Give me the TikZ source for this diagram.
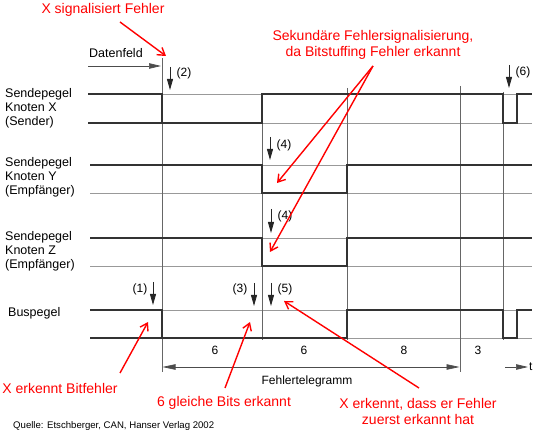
\documentclass[tikz,border=0pt]{standalone}
\usepackage{fontspec}
\setmainfont{Liberation Sans}
\usetikzlibrary{arrows.meta}
\begin{document}
\begin{tikzpicture}[x=1pt,y=-1pt,
  sigln/.style={line width=2.4pt, draw=black!80, line join=miter},
  refln/.style={line width=0.7pt, draw=black!40},
  gridln/.style={line width=0.7pt, draw=black!60},
  darr/.style={line width=0.8pt, draw=black!85, -{Triangle[length=11pt,width=6pt]}},
  dimarr/.style={line width=0.7pt, draw=black!70},
  redarr/.style={draw=red, line width=1.4pt, -{Straight Barb[length=7pt,width=9pt]}},
  redtxt/.style={text=red, font=\fontsize{14}{16}\selectfont, align=center, inner sep=0},
  lbl/.style={font=\fontsize{12.5}{14}\selectfont, align=left, anchor=west, inner sep=0},
  numlbl/.style={font=\fontsize{12}{14}\selectfont, inner sep=0},
  src/.style={font=\fontsize{9.6}{11}\selectfont, anchor=west, inner sep=0}
]
\useasboundingbox (0,0) rectangle (538,435);

% reference (thin) levels
\foreach \yh/\yl/\xs in {94/123/88, 165/193/90, 238/266/90, 310/338/90}{
  \draw[refln] (\xs,\yh) -- (532,\yh);
  \draw[refln] (\xs,\yl) -- (532,\yl);
}

% vertical grid lines
\draw[gridln] (162,58) -- (162,372);
\draw[gridln] (262,94) -- (262,340);
\draw[gridln] (347,88) -- (347,340);
\draw[gridln] (460,86) -- (460,372);
\draw[gridln] (503,92) -- (503,340);

% signals
\draw[sigln] (88,94) -- (162,94) -- (162,123) -- (262,123) -- (262,94) -- (503,94) -- (503,123) -- (517,123) -- (517,94) -- (532,94);
\draw[sigln] (88,123) -- (162,123);
\draw[sigln] (90,165) -- (262,165) -- (262,193) -- (347,193) -- (347,165) -- (532,165);
\draw[sigln] (90,238) -- (262,238) -- (262,266) -- (347,266) -- (347,238) -- (532,238);
\draw[sigln] (90,310) -- (162,310) -- (162,338) -- (347,338) -- (347,310) -- (503,310) -- (503,338) -- (517,338) -- (517,310) -- (532,310);
\draw[sigln] (90,338) -- (162,338);

% left labels
\node[lbl] (lx) at (5,108) {Sendepegel\\Knoten X\\(Sender)};
\node[lbl] (ly) at (5,177) {Sendepegel\\Knoten Y\\(Empfänger)};
\node[lbl] (lz) at (5,251) {Sendepegel\\Knoten Z\\(Empfänger)};
\node[lbl] (lb) at (8,313) {Buspegel};

% Datenfeld
\node[lbl] (df) at (89,53) {Datenfeld};
\coordinate (dfa) at (88,66);
\coordinate (dfb) at (161,66);
\draw[dimarr, -{Triangle[length=12pt,width=5.5pt]}] (dfa) -- (dfb);

% event markers
\foreach \n/\x/\ya/\yb/\lx/\ly/\t in {
  m2/170/67/90/184/73/(2),
  m4y/270/137/160/284/145/(4),
  m4z/271/209/233/285/216/(4),
  m1/153/282/305/140/289/(1),
  m3/254/283/306/240/289/(3),
  m5/271/283/306/285/289/(5),
  m6/509/65/88/523/72/(6)}{
  \coordinate (\n a) at (\x,\ya);
  \coordinate (\n b) at (\x,\yb);
  \draw[darr] (\n a) -- (\n b);
  \node[numlbl] (\n l) at (\lx,\ly) {\t};
}

% bit counts
\node[numlbl] (c1) at (215,350) {6};
\node[numlbl] (c2) at (304,350) {6};
\node[numlbl] (c3) at (404,350) {8};
\node[numlbl] (c4) at (478,350) {3};

% Fehlertelegramm
\coordinate (fta) at (162.5,367);
\coordinate (ftb) at (459.5,367);
\draw[dimarr, {Triangle[length=13pt,width=5.5pt]}-{Triangle[length=13pt,width=5.5pt]}] (fta) -- (ftb);
\node[numlbl] (ft) at (307,381) {Fehlertelegramm};
\coordinate (ta) at (505,367);
\coordinate (tb) at (528,367);
\draw[dimarr, -{Triangle[length=12pt,width=5.5pt]}] (ta) -- (tb);
\node[numlbl, anchor=west] (tl) at (529,367) {t};

% source
\node[src] (q) at (13,426) {Quelle: Etschberger, CAN, Hanser Verlag 2002};

% red annotations
\node[redtxt] (r1) at (103,10) {X signalisiert Fehler};
\node[redtxt] (r2) at (373,45) {Sekundäre Fehlersignalisierung,\\da Bitstuffing Fehler erkannt};
\node[redtxt] (r3) at (60,388) {X erkennt Bitfehler};
\node[redtxt] (r4) at (224,403) {6 gleiche Bits erkannt};
\node[redtxt] (r5) at (418,411) {X erkennt, dass er Fehler\\zuerst erkannt hat};

\coordinate (r1s) at (120,22);  \coordinate (r1e) at (166,56);
\coordinate (r2s) at (373,66);  \coordinate (r2e) at (277,183);
\coordinate (r2f) at (270,252);
\coordinate (r3s) at (120,373); \coordinate (r3e) at (148,322);
\coordinate (r4s) at (225,388); \coordinate (r4e) at (250,322);
\coordinate (r5s) at (419,388); \coordinate (r5e) at (284,301);
\draw[redarr] (r1s) -- (r1e);
\draw[redarr] (r2s) -- (r2e);
\draw[redarr] (r2s) -- (r2f);
\draw[redarr] (r3s) -- (r3e);
\draw[redarr] (r4s) -- (r4e);
\draw[redarr] (r5s) -- (r5e);
\end{tikzpicture}
\end{document}
